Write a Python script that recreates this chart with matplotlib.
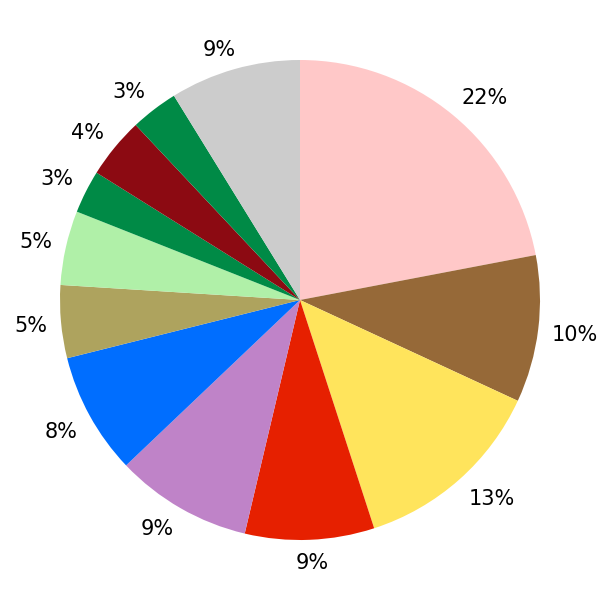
import numpy as np
import matplotlib
matplotlib.use("Agg")
import matplotlib.pyplot as plt

values = [22.0, 9.9, 13.1, 8.7, 9.2, 8.2, 4.9, 5.0, 2.9, 4.1, 3.2, 8.8]
colors = ["#FFC8C8", "#966938", "#FFE45C", "#E62000", "#BF83C8", "#006EFF",
          "#AEA35E", "#B0F0A8", "#008A46", "#8C0A12", "#008A46", "#CCCCCC"]

fig = plt.figure(figsize=(6, 6), dpi=100)
ax = fig.add_axes([0, 0, 1, 1])
wedges, texts, autotexts = ax.pie(values, colors=colors, startangle=90,
                                  counterclock=False, autopct="%.0f%%",
                                  pctdistance=1.12, radius=1.0,
                                  textprops=dict(fontsize=15, color="black"))
ax.set_xlim(-1.25, 1.25)
ax.set_ylim(-1.25, 1.25)
ax.set_aspect("equal")
ax.axis("off")

fig.canvas.draw()
renderer = fig.canvas.get_renderer()
px_per_unit = 600 / 2.5
anchor_px = 254
em_px = 15 * 100 / 72
ink_h = 0.729 * em_px
for w, t in zip(wedges, autotexts):
    ang = np.deg2rad((w.theta1 + w.theta2) / 2)
    ux, uy = np.cos(ang), np.sin(ang)
    bb = t.get_window_extent(renderer)
    fx = np.clip(2.5 * ux, -1, 1)
    fy = np.clip(2.5 * uy, -1, 1)
    cx = anchor_px * ux + fx * bb.width / 2
    cy = anchor_px * uy + fy * ink_h / 2
    base_y = cy - ink_h / 2
    t.set_position((cx / px_per_unit, base_y / px_per_unit))
    t.set_ha("center")
    t.set_va("baseline")

fig.savefig("out.png", dpi=100)
